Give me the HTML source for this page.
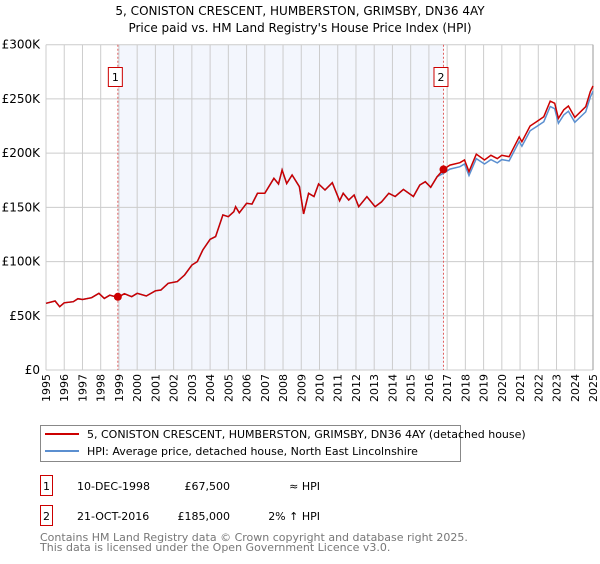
<!DOCTYPE html>
<html><head><meta charset="utf-8"><style>
body{margin:0;background:#fff;font-family:"DejaVu Sans","Liberation Sans",sans-serif;}
svg text{font-family:"DejaVu Sans","Liberation Sans",sans-serif;}
</style></head><body>
<svg id="c" width="600" height="560" xmlns="http://www.w3.org/2000/svg">
<text x="300" y="15" text-anchor="middle" font-size="12">5, CONISTON CRESCENT, HUMBERSTON, GRIMSBY, DN36 4AY</text>
<text x="300" y="32" text-anchor="middle" font-size="12">Price paid vs. HM Land Registry's House Price Index (HPI)</text>
<g id="plot"></g>
<g>
<rect x="40.5" y="425.5" width="420" height="36" fill="#fff" stroke="#888"/>
<line x1="45" y1="434" x2="79" y2="434" stroke="#cc0000" stroke-width="2"/>
<text x="87" y="438" font-size="11">5, CONISTON CRESCENT, HUMBERSTON, GRIMSBY, DN36 4AY (detached house)</text>
<line x1="45" y1="451" x2="79" y2="451" stroke="#5b8fd0" stroke-width="2"/>
<text x="87" y="455" font-size="11">HPI: Average price, detached house, North East Lincolnshire</text>
</g>
<g>
<rect x="40.5" y="475.5" width="12" height="20" fill="#fff" stroke="#cc0000"/>
<text x="46.5" y="490" text-anchor="middle" font-size="11">1</text>
<text x="77" y="490" font-size="11">10-DEC-1998</text>
<text x="230" y="490" text-anchor="end" font-size="11">£67,500</text>
<text x="320" y="490" text-anchor="end" font-size="11">≈ HPI</text>
<rect x="40.5" y="505.5" width="12" height="20" fill="#fff" stroke="#cc0000"/>
<text x="46.5" y="520" text-anchor="middle" font-size="11">2</text>
<text x="77" y="520" font-size="11">21-OCT-2016</text>
<text x="230" y="520" text-anchor="end" font-size="11">£185,000</text>
<text x="320" y="520" text-anchor="end" font-size="11">2% ↑ HPI</text>
</g>
<text x="40" y="541" font-size="11" fill="#777">Contains HM Land Registry data © Crown copyright and database right 2025.</text>
<text x="40" y="551" font-size="11" fill="#777">This data is licensed under the Open Government Licence v3.0.</text>
</svg>
<script>
const years=[1995,1995.5,1995.75,1996,1996.5,1996.75,1997,1997.5,1997.9,1998.2,1998.5,1998.94,1999.3,1999.7,2000,2000.5,2001,2001.3,2001.7,2002.2,2002.6,2003,2003.3,2003.6,2004,2004.3,2004.7,2005,2005.3,2005.4,2005.6,2006,2006.3,2006.6,2007,2007.5,2007.75,2007.95,2008.2,2008.5,2008.9,2009.13,2009.4,2009.7,2009.95,2010.3,2010.7,2011.1,2011.3,2011.6,2011.9,2012.15,2012.6,2013.05,2013.4,2013.8,2014.15,2014.6,2015.15,2015.5,2015.8,2016.1,2016.45,2016.8,2017.15,2017.7,2017.95,2018.2,2018.6,2019.05,2019.4,2019.75,2020,2020.4,2020.95,2021.1,2021.55,2021.9,2022.3,2022.65,2022.9,2023.1,2023.4,2023.65,2024,2024.6,2024.85,2025];
const propertyValues=[61.5,63.6,58.4,62,63,65.8,65,66.7,70.7,66,69,67,70.4,67.6,70.7,68.2,73,73.8,80,81.5,87.6,96.8,100,110.7,120.5,123,143,141.4,146,150.6,145,153.7,153,163,163,176.8,171.5,184.4,172,179.8,169,144,163,160,171.5,166,172.7,156,163,156.8,161.4,150.6,159.8,150.6,155,163,160,166.6,160,170.6,173.7,168.5,178.3,185,189,191.2,193.7,183,199,193.7,198,195,198,196.7,215,210.5,225,229,233.6,248,246,232,240,243.5,233,242.8,256.7,262];
const hpiValues=[61.5,63.6,58.4,62,63,65.8,65,66.7,70.7,66,69,67,70.4,67.6,70.7,68.2,73,73.8,80,81.5,87.6,96.8,100,110.7,120.5,123,143,141.4,146,150.6,145,153.7,153,163,163,176.8,171.5,184.4,172,179.8,169,144,163,160,171.5,166,172.7,156,163,156.8,161.4,150.6,159.8,150.6,155,163,160,166.6,160,170.6,173.7,168.5,178.3,181.5,185.3,187.5,190,179.4,195,190,194,191,194,192.8,210.8,206.4,220.6,224.5,229,243,241,227.5,235.3,238.7,228.4,238,251.7,257];
const saleYears=[1998.94,2016.8];
const salePrices=[67.5,185];
const saleLabels=["1","2"];
const yTicks=[0,50,100,150,200,250,300];
const yTickLabels=["£0","£50K","£100K","£150K","£200K","£250K","£300K"];
const xTicks=[];for(let y=1995;y<=2025;y++)xTicks.push(y);

const L=46,R=593,T=44.7,B=370;
const xs=v=>L+(v-1995)/30*(R-L);
const ys=v=>B-v/300*(B-T);
const NS="http://www.w3.org/2000/svg";
const g=document.getElementById('plot');
function mk(tag,attrs){const e=document.createElementNS(NS,tag);for(const k in attrs)e.setAttribute(k,attrs[k]);g.appendChild(e);return e;}

const shade=mk('rect',{x:xs(saleYears[0]),y:T,width:xs(saleYears[1])-xs(saleYears[0]),height:B-T,fill:'#f3f6fd'});


xTicks.forEach(t=>{
  const l=mk('line',{x1:xs(t),x2:xs(t),y1:T,y2:B,stroke:'#ccc','stroke-width':1});
  
  
  const tx=mk('text',{x:0,y:0,'font-size':11,'text-anchor':'end',transform:`translate(${xs(t)+4},${B+4}) rotate(-90)`});
  tx.textContent=t;
  
  
});
yTicks.forEach((t,i)=>{
  const l=mk('line',{x1:L,x2:R,y1:ys(t),y2:ys(t),stroke:'#ccc','stroke-width':1});
  
  
  const tx=mk('text',{x:40,y:ys(t)+4,'font-size':12,'text-anchor':'end'});
  tx.textContent=yTickLabels[i];
  
  
});
const rb=mk('line',{x1:R,x2:R,y1:T,y2:B,stroke:'#999','stroke-width':1});


saleYears.forEach((s,i)=>{
  const l=mk('line',{x1:xs(s),x2:xs(s),y1:T,y2:B,stroke:'#e06060','stroke-width':1,'stroke-dasharray':'2,2'});
  
  
  const r=mk('rect',{x:xs(s)-9.5,y:67.5,width:14,height:19,fill:'#fff',stroke:'#cc0000'});
  
  
  const tx=mk('text',{x:xs(s)-2.5,y:81,'font-size':11,'text-anchor':'middle'});
  tx.textContent=saleLabels[i];
  
  
});
function path(vals){return years.map((y,i)=>(i?'L':'M')+xs(y).toFixed(1)+','+ys(vals[i]).toFixed(1)).join('');}
const hp=mk('path',{d:path(hpiValues),fill:'none',stroke:'#5b8fd0','stroke-width':1.5});


const pp=mk('path',{d:path(propertyValues),fill:'none',stroke:'#cc0000','stroke-width':1.5});


saleYears.forEach((s,i)=>{
  const c=mk('circle',{cx:xs(s),cy:ys(salePrices[i]),r:4,fill:'#cc0000'});
  
  
});
</script>
</body></html>
